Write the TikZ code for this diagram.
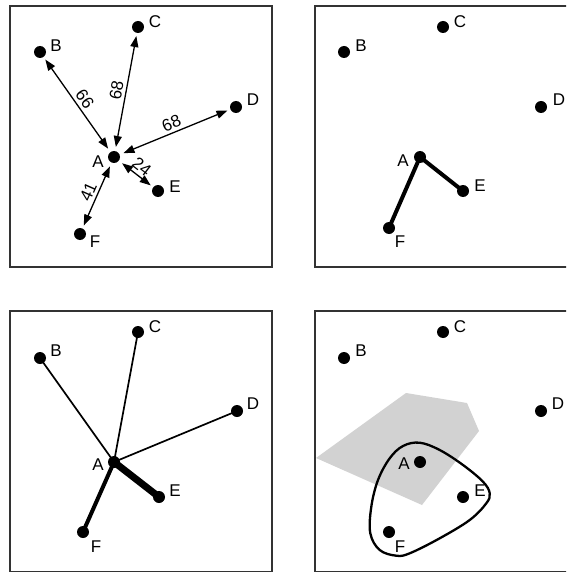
\documentclass[tikz,border=0pt]{standalone}
\usepackage{fontspec}
\setmainfont{Liberation Sans}
\usetikzlibrary{arrows.meta,calc}
\begin{document}
\begin{tikzpicture}[x=1pt,y=-1pt,
  dot/.style={circle,fill=black,inner sep=0pt,minimum size=12pt},
  lbl/.style={inner sep=0pt,font=\fontsize{17}{19}\selectfont},
  frame/.style={draw=black!80,line width=2pt},
  dist/.style={line width=1.3pt,{Triangle[length=11pt,width=8pt]}-{Triangle[length=11pt,width=8pt]},shorten <=4pt,shorten >=3pt},
  elbl/.style={sloped,above=3pt,inner sep=0pt,font=\fontsize{17}{19}\selectfont},
  route/.style={line width=4pt,line join=round,line cap=round},
  thinlink/.style={line width=1.7pt},
  shade/.style={fill=gray!35!white,draw=none},
  hull/.style={draw=black,line width=2.3pt}
]
\useasboundingbox (0,0) rectangle (566,572);
\clip (0,0) rectangle (566,572);

% frames
\draw[frame] (10,6) rectangle (272,267);
\draw[frame] (315,6) rectangle (580,267);
\draw[frame] (10,311) rectangle (272,571.5);
\draw[frame] (315,311) rectangle (580,571.5);

% ---------------- panel 1 ----------------
\node[dot] (a1) at (114,157) {};
\node[dot] (b1) at (40,52) {};
\node[dot] (c1) at (138,27) {};
\node[dot] (d1) at (236,107) {};
\node[dot] (e1) at (158,191) {};
\node[dot] (f1) at (80,234) {};
\node[lbl] (la1) at (98,162) {A};
\node[lbl] (lb1) at (56,46) {B};
\node[lbl] (lc1) at (155,22) {C};
\node[lbl] (ld1) at (253,100) {D};
\node[lbl] (le1) at (175,187) {E};
\node[lbl] (lf1) at (95,242) {F};
\draw[dist] (a1) -- node[elbl] (n66) {66} (b1);
\draw[dist] (a1) -- node[elbl] (n68a) {68} (c1);
\draw[dist] (a1) -- node[elbl] (n68b) {68} (d1);
\draw[dist] (a1) -- node[elbl] (n24) {24} (e1);
\draw[dist] (a1) -- node[elbl] (n41) {41} (f1);

% ---------------- panel 2 ----------------
\draw[route] (389,228) -- (420,157) -- (463,191);
\node[dot] (a2) at (420,157) {};
\node[dot] (b2) at (344,52) {};
\node[dot] (c2) at (443,27) {};
\node[dot] (d2) at (541,107) {};
\node[dot] (e2) at (463,191) {};
\node[dot] (f2) at (389,228) {};
\node[lbl] (la2) at (403,161) {A};
\node[lbl] (lb2) at (361,46) {B};
\node[lbl] (lc2) at (460,22) {C};
\node[lbl] (ld2) at (559,100) {D};
\node[lbl] (le2) at (480,186) {E};
\node[lbl] (lf2) at (400,242) {F};

% ---------------- panel 3 ----------------
\node[dot] (a3) at (114,462) {};
\node[dot] (b3) at (40,358) {};
\node[dot] (c3) at (138,332) {};
\node[dot] (d3) at (237,411) {};
\node[dot] (e3) at (159,497) {};
\node[dot] (f3) at (83,532) {};
\draw[thinlink] (a3.center) -- (b3.center);
\draw[thinlink] (a3.center) -- (c3.center);
\draw[thinlink] (a3.center) -- (d3.center);
\draw[line width=4pt] (a3.center) -- (f3.center);
\draw[line width=7pt] (a3.center) -- (e3.center);
\node[lbl] (la3) at (98,465) {A};
\node[lbl] (lb3) at (56,351) {B};
\node[lbl] (lc3) at (155,327) {C};
\node[lbl] (ld3) at (253,404) {D};
\node[lbl] (le3) at (175,491) {E};
\node[lbl] (lf3) at (96,547) {F};

% ---------------- panel 4 ----------------
\fill[shade] (316,458) -- (406,393) -- (467,403) -- (479,431) -- (422,505) -- cycle;
\draw[hull] plot[smooth cycle,tension=0.6] coordinates {
  (419.7,442.7) (439.7,450) (463,465) (483,481.7) (489.7,493.3) (486.3,503.3)
  (469.7,520) (439.7,538.3) (409.7,553.3) (396.3,555.7) (379.7,550) (370.3,533.3)
  (371.3,506.7) (378,480) (389.7,458.3) (403,446)};
\node[dot] (a4) at (420,462) {};
\node[dot] (b4) at (344,358) {};
\node[dot] (c4) at (443,332) {};
\node[dot] (d4) at (541,411) {};
\node[dot] (e4) at (463,497) {};
\node[dot] (f4) at (389,532) {};
\node[lbl] (la4) at (404,464) {A};
\node[lbl] (lb4) at (361,351) {B};
\node[lbl] (lc4) at (460,327) {C};
\node[lbl] (ld4) at (558,404) {D};
\node[lbl] (le4) at (480,491) {E};
\node[lbl] (lf4) at (400,547) {F};
\end{tikzpicture}
\end{document}
